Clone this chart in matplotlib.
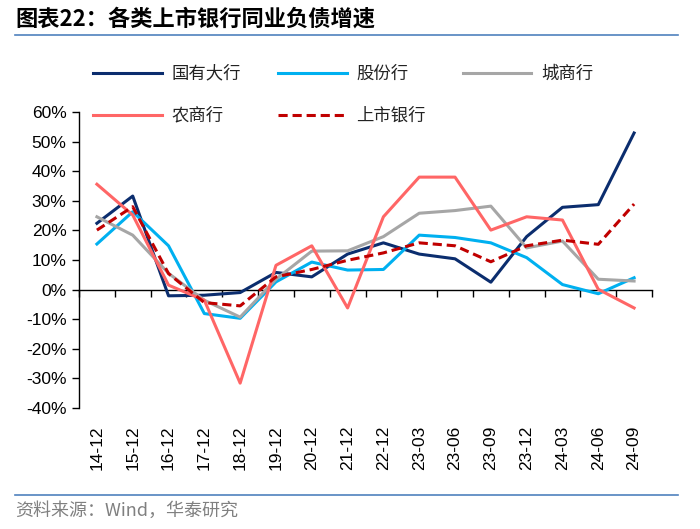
import matplotlib
matplotlib.use("Agg")
import matplotlib.pyplot as plt
from matplotlib.lines import Line2D
import numpy as np

categories = ["14-12", "15-12", "16-12", "17-12", "18-12", "19-12", "20-12", "21-12",
              "22-12", "23-03", "23-06", "23-09", "23-12", "24-03", "24-06", "24-09"]
big_state = [22.4, 31.6, -2.1, -1.9, -1.0, 5.8, 4.3, 12.0, 15.8, 12.0, 10.4, 2.5, 17.9, 27.8, 28.7, 52.9]
joint_stock = [15.4, 26.3, 14.8, -8.1, -9.7, 2.6, 9.3, 6.6, 6.8, 18.4, 17.6, 15.8, 10.8, 1.7, -1.4, 4.0]
city = [24.6, 18.4, 5.5, -3.6, -9.3, 3.5, 13.0, 13.1, 17.9, 25.8, 26.7, 28.2, 14.1, 16.4, 3.5, 2.9]
rural = [35.6, 25.2, 1.5, -3.6, -31.6, 8.2, 14.8, -6.2, 24.6, 38.0, 38.0, 20.1, 24.6, 23.5, 0.1, -6.2]
listed = [20.1, 28.0, 5.4, -4.4, -5.5, 4.3, 6.8, 9.9, 12.4, 15.8, 14.8, 9.4, 14.8, 16.7, 15.3, 28.9]
series_names = ["国有大行", "股份行", "城商行", "农商行", "上市银行"]
yticks = [-40, -30, -20, -10, 0, 10, 20, 30, 40, 50, 60]

cjk = ["Noto Sans CJK SC", "DejaVu Sans"]
latin = ["Liberation Sans", "DejaVu Sans"]

fig = plt.figure(figsize=(7.0, 5.29), dpi=100)
ax = fig.add_axes([79/700, 1-408/529, (652-79)/700, (408-112)/529])

x = np.arange(len(categories))
styles = [
    dict(color="#0B2D6E", lw=2.2, ls="-"),
    dict(color="#00B0F0", lw=2.2, ls="-"),
    dict(color="#A6A6A6", lw=2.2, ls="-"),
    dict(color="#FF6666", lw=2.2, ls="-"),
    dict(color="#C00000", lw=2.2, ls=(0, (3, 1.6))),
]
data = [big_state, joint_stock, city, rural, listed]
order = [2, 1, 3, 0, 4]
for i in order:
    ax.plot(x, data[i], zorder=3 + i, **styles[i])

ax.set_xlim(-0.5, len(categories) - 0.5)
ax.set_ylim(-40, 60)
ax.set_yticks(yticks)
ax.set_yticklabels([f"{v}%" for v in yticks], family=latin, fontsize=12.5)
for s in ["top", "right"]:
    ax.spines[s].set_visible(False)
ax.spines["left"].set_linewidth(1.0)
ax.spines["bottom"].set_position(("data", 0))
ax.spines["bottom"].set_linewidth(1.0)
ax.tick_params(axis="y", direction="out", length=5, width=1.0, pad=4, colors="black")
ax.set_xticks(np.arange(-0.5, len(categories), 1.0))
ax.set_xticklabels([])
ax.tick_params(axis="x", direction="out", length=5, width=1.0)
for xi, lab in zip(x, categories):
    ax.text(xi, -0.06, lab, transform=ax.get_xaxis_transform(), rotation=90,
            ha="center", va="top", fontsize=12.5, family=latin)

# legend laid out row-major (3 columns): matplotlib fills column-major
leg_order = [0, 3, 1, 4, 2]
handles = [Line2D([], [], **styles[i]) for i in leg_order]
labels = [series_names[i] for i in leg_order]
leg = fig.legend(handles, labels, ncol=3, loc="upper left",
                 bbox_to_anchor=(77/700, 1-49/529), frameon=False,
                 prop={"family": cjk, "size": 12.5}, handlelength=3.97,
                 handletextpad=0.58, columnspacing=2.1, labelspacing=1.4)
for t in leg.get_texts():
    t.set_color("#222222")

fig.text(15/700, 1-19/529, "图表22：各类上市银行同业负债增速", family=cjk,
         fontsize=16, fontweight="bold", va="center", ha="left")
fig.add_artist(Line2D([15/700, 678/700], [1-35/529, 1-35/529], color="#4F81BD", lw=1.2))
fig.add_artist(Line2D([15/700, 678/700], [1-495/529, 1-495/529], color="#4F81BD", lw=1.2))
fig.text(15/700, 1-511/529, "资料来源：Wind，华泰研究", family=cjk, fontsize=13,
         color="#808080", va="center", ha="left")

fig.savefig("out.png", dpi=100)
